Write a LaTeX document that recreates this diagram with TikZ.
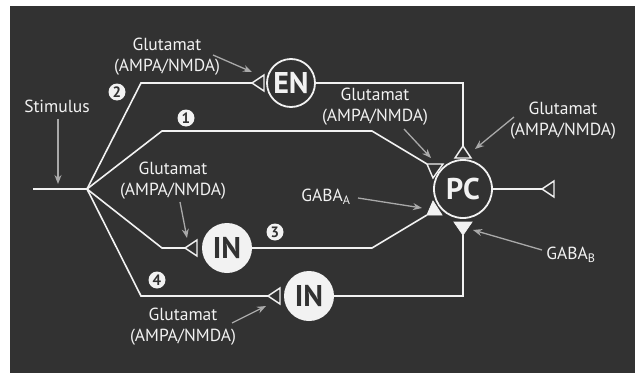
\documentclass[tikz,border=0pt]{standalone}
\usepackage{fontspec}
\setmainfont{PT Sans}
\usetikzlibrary{arrows.meta}
\definecolor{bg}{HTML}{323232}
\definecolor{ptrc}{HTML}{A9A9A9}
\definecolor{fg}{HTML}{F2F2F2}
\begin{document}
\begin{tikzpicture}[x=1pt,y=-1pt,
 wire/.style={draw=fg, line width=1.6pt, line join=miter},
 synopen/.style={draw=fg, line width=1.4pt, fill=bg, line join=miter},
 synfill/.style={fill=fg, draw=fg, line width=0.8pt, line join=miter},
 cellring/.style={circle, draw=fg, line width=1.8pt, inner sep=0pt, text=fg, font=\fontsize{30}{30}\selectfont\bfseries},
 cellfull/.style={circle, fill=fg, inner sep=0pt, text=bg, font=\fontsize{30}{30}\selectfont\bfseries},
 lbl/.style={text=fg, align=center, font=\fontsize{17.5}{21}\selectfont, inner sep=0pt},
 ptr/.style={draw=ptrc, line width=1.3pt, -{Stealth[length=9pt,width=7pt]}},
 num/.style={circle, fill=fg, text=bg, inner sep=0pt, minimum size=17pt, font=\fontsize{15}{15}\selectfont\bfseries}
]
\fill[white] (0,0) rectangle (635,383);
\fill[bg] (10,6) rectangle (635,373);
\useasboundingbox (0,0) rectangle (635,383);

% cells
\node[cellring, minimum size=48pt] (EN) at (291,83) {EN};
\node[cellring, minimum size=58pt] (PC) at (463,189) {PC};
\node[cellfull, minimum size=50pt] (IN1) at (227,248) {IN};
\node[cellfull, minimum size=50pt] (IN2) at (309,296) {IN};

% path points
\coordinate (in0) at (33,189);
\coordinate (B) at (87,189);
\coordinate (p1a) at (162,131);
\coordinate (p1b) at (372,131);
\coordinate (s1) at (427,164);
\coordinate (p2a) at (141,83);
\coordinate (sEN) at (252,83);
\coordinate (p2b) at (463,83);
\coordinate (s2) at (463,146);
\coordinate (p3a) at (162,248);
\coordinate (sIN1) at (185,248);
\coordinate (p3b) at (372,248);
\coordinate (sA) at (427,215);
\coordinate (p4a) at (141,296);
\coordinate (sIN2) at (268,296);
\coordinate (p4b) at (463,296);
\coordinate (sB) at (463,235);
\coordinate (sOut) at (542,189);

% wires
\draw[wire] (in0) -- (B);
\draw[wire] (B) -- (p1a) -- (p1b) -- (s1);
\draw[wire] (B) -- (p2a) -- (sEN);
\draw[wire] (EN) -- (p2b) -- (s2);
\draw[wire] (B) -- (p3a) -- (sIN1);
\draw[wire] (IN1) -- (p3b) -- (sA);
\draw[wire] (B) -- (p4a) -- (sIN2);
\draw[wire] (IN2) -- (p4b) -- (sB);
\draw[wire] (PC) -- (sOut);

% synapses
\draw[synopen] (sEN) -- ++(12,-8) -- ++(0,16) -- cycle;
\draw[synopen] (sIN1) -- ++(12,-8) -- ++(0,16) -- cycle;
\draw[synopen] (sIN2) -- ++(12,-8) -- ++(0,16) -- cycle;
\draw[synopen] (sOut) -- ++(12,-8) -- ++(0,16) -- cycle;
\draw[synopen] (s2) -- ++(-8,12) -- ++(16,0) -- cycle;
\draw[synopen] (s1) -- ++(16,0) -- ++(-10,14) -- cycle;
\draw[synfill] (sA) -- ++(15,0) -- ++(-9,-14) -- cycle;
\draw[synfill] (sB) -- ++(-9,-13) -- ++(18,0) -- cycle;

% numbers
\node[num] (n1) at (186,118) {1};
\node[num] (n2) at (117,92) {2};
\node[num] (n3) at (275,232) {3};
\node[num] (n4) at (157,280) {4};

% labels
\node[lbl] (g1) at (167,57) {Glutamat\\(AMPA/NMDA)};
\node[lbl] (g2) at (375,107) {Glutamat\\(AMPA/NMDA)};
\node[lbl] (g3) at (563,121) {Glutamat\\(AMPA/NMDA)};
\node[lbl] (g4) at (173,181) {Glutamat\\(AMPA/NMDA)};
\node[lbl] (g5) at (183,327) {Glutamat\\(AMPA/NMDA)};
\node[lbl] (ga) at (326,197) {GABA\textsubscript{A}};
\node[lbl] (gb) at (571,255) {GABA\textsubscript{B}};
\node[lbl] (stim) at (57,106) {Stimulus};

% pointer arrows
\coordinate (a1s) at (213,55);  \coordinate (a1e) at (252,72);
\coordinate (a2s) at (404,129); \coordinate (a2e) at (431,158);
\coordinate (a3s) at (514,117); \coordinate (a3e) at (475,149);
\coordinate (a4s) at (180,202); \coordinate (a4e) at (187,238);
\coordinate (a5s) at (232,323); \coordinate (a5e) at (266,306);
\coordinate (aAs) at (358,198); \coordinate (aAe) at (422,208);
\coordinate (aBs) at (542,250); \coordinate (aBe) at (473,230);
\coordinate (aSs) at (58,119);  \coordinate (aSe) at (58,184);
\draw[ptr] (a1s) -- (a1e);
\draw[ptr] (a2s) -- (a2e);
\draw[ptr] (a3s) -- (a3e);
\draw[ptr] (a4s) -- (a4e);
\draw[ptr] (a5s) -- (a5e);
\draw[ptr] (aAs) -- (aAe);
\draw[ptr] (aBs) -- (aBe);
\draw[ptr] (aSs) -- (aSe);
\end{tikzpicture}
\end{document}
